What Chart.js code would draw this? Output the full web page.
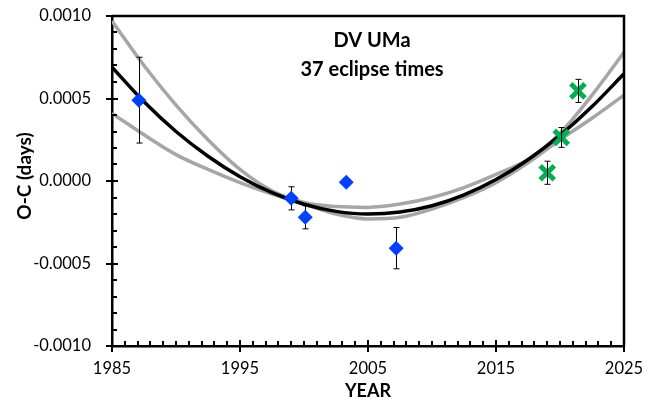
<!DOCTYPE html>
<html>
<head>
<meta charset="utf-8">
<script src="https://cdn.jsdelivr.net/npm/chart.js@4/dist/chart.umd.min.js"></script>
<style>
  html, body { margin: 0; padding: 0; background: #fff; }
  #wrap { width: 667px; height: 400px; }
</style>
</head>
<body>
<div id="wrap"><canvas id="oc" width="667" height="400"></canvas></div>
<script>
// Quadratic ephemeris fit and its envelope, sampled every 2.5 years
const curveYears = [1985, 1987.5, 1990, 1992.5, 1995, 1997.5, 2000, 2002.5, 2005, 2007.5, 2010, 2012.5, 2015, 2017.5, 2020, 2022.5, 2025];
const fitOC   = [0.00069, 0.00048, 0.00030, 0.00015, 0.000026, -0.000071, -0.000141, -0.000184, -0.0002, -0.000188, -0.00015, -0.000084, 0.000009, 0.000129, 0.000276, 0.000451, 0.00065];
const upperOC = [0.00097, 0.00070, 0.00046, 0.00025, 0.00007, -0.00006, -0.00013, -0.000155, -0.00016, -0.00014, -0.0001, -0.00004, 0.00004, 0.00013, 0.00029, 0.00052, 0.00078];
const lowerOC = [0.00041, 0.00028, 0.00016, 0.00007, -0.00001, -0.00008, -0.00014, -0.0002, -0.00023, -0.00022, -0.00017, -0.0001, -0.00001, 0.00011, 0.00025, 0.00038, 0.00052];

// Archival eclipse timings (O-C in days) with uncertainties
const archiveYears = [1987.1, 1999.0, 2000.1, 2003.3, 2007.2];
const archiveOC    = [0.00049, -0.000105, -0.00022, -0.000008, -0.000407];
const archiveErr   = [0.00026, 0.00007, 0.00007, 0, 0.000125];

// Recent eclipse timings
const recentYears = [2019.0, 2020.1, 2021.4];
const recentOC    = [0.00005, 0.000264, 0.000546];
const recentErr   = [0.00007, 0.00006, 0.00007];

// Axis ticks
const xMajorTicks = [1985, 1995, 2005, 2015, 2025];
const yMajorTicks = [-0.0010, -0.0005, 0.0000, 0.0005, 0.0010];
const xMinorStep = 1;
const yMinorStep = 0.0001;

const titleLines = ['DV UMa', '37 eclipse times'];
const xTitle = 'YEAR';
const yTitle = 'O-C (days)';

const FONT = 'Lato, "Open Sans", sans-serif';
const BLUE = '#0040ff';
const GREEN = '#00b050';
const GREY = '#a6a6a6';

const toPoints = (xs, ys) => xs.map((x, i) => ({ x, y: ys[i] }));

function drawErrorBars(chart, xs, ys, errs) {
  const ctx = chart.ctx, sx = chart.scales.x, sy = chart.scales.y;
  ctx.save();
  ctx.strokeStyle = '#000';
  ctx.lineWidth = 1;
  xs.forEach((x, i) => {
    if (!errs[i]) return;
    const px = Math.round(sx.getPixelForValue(x)) + 0.5;
    const top = sy.getPixelForValue(ys[i] + errs[i]);
    const bot = sy.getPixelForValue(ys[i] - errs[i]);
    ctx.beginPath();
    ctx.moveTo(px, top); ctx.lineTo(px, bot);
    ctx.moveTo(px - 3, top); ctx.lineTo(px + 3, top);
    ctx.moveTo(px - 3, bot); ctx.lineTo(px + 3, bot);
    ctx.stroke();
  });
  ctx.restore();
}

const ARCHIVE_IDX = 3;
const RECENT_IDX = 4;

const errorBarPlugin = {
  id: 'errorBars',
  beforeDatasetDraw(chart, args) {
    if (args.index === ARCHIVE_IDX) drawErrorBars(chart, archiveYears, archiveOC, archiveErr);
  },
  afterDatasetDraw(chart, args) {
    if (args.index === RECENT_IDX) drawErrorBars(chart, recentYears, recentOC, recentErr);
  }
};

const framePlugin = {
  id: 'frame',
  afterDatasetsDraw(chart) {
    const ctx = chart.ctx, a = chart.chartArea;
    const sx = chart.scales.x, sy = chart.scales.y;
    ctx.save();
    ctx.strokeStyle = '#000';
    ctx.lineWidth = 2.5;
    ctx.beginPath();
    ctx.moveTo(a.left, a.top); ctx.lineTo(a.right, a.top); ctx.lineTo(a.right, a.bottom);
    ctx.stroke();

    ctx.lineWidth = 2;
    ctx.beginPath();
    // minor ticks point into the plot, major ticks cross the axis
    for (let v = 1985; v <= 2025 + 1e-9; v += xMinorStep) {
      const px = Math.round(sx.getPixelForValue(v));
      const major = xMajorTicks.some(t => Math.abs(t - v) < 1e-6);
      ctx.moveTo(px, a.bottom - (major ? 6 : 5));
      ctx.lineTo(px, a.bottom + (major ? 6 : 0));
    }
    for (let k = -10; k <= 10; k++) {
      const v = k * yMinorStep;
      const py = Math.round(sy.getPixelForValue(v));
      const major = k % 5 === 0;
      ctx.moveTo(a.left - (major ? 6 : 0), py);
      ctx.lineTo(a.left + (major ? 6 : 5), py);
    }
    ctx.stroke();
    ctx.restore();
  },
  afterDraw(chart) {
    const ctx = chart.ctx, a = chart.chartArea;
    const cx = (a.left + a.right) / 2;
    ctx.save();
    ctx.fillStyle = '#000';
    ctx.textAlign = 'center';
    ctx.textBaseline = 'alphabetic';
    ctx.font = 'bold 20px ' + FONT;
    ctx.fillText(titleLines[0], cx + 4, a.top + 31);
    ctx.fillText(titleLines[1], cx + 4, a.top + 60);

    ctx.font = 'bold 18px ' + FONT;
    ctx.fillText(xTitle, cx, 397);

    ctx.translate(31, (a.top + a.bottom) / 2 - 5);
    ctx.rotate(-Math.PI / 2);
    ctx.font = 'bold 19px ' + FONT;
    ctx.fillText(yTitle, 0, 0);
    ctx.restore();
  }
};

// lower "order" values are painted last, i.e. on top
const lineDs = (data, color, order) => ({
  type: 'line',
  data,
  order,
  showLine: true,
  borderColor: color,
  borderWidth: 3.5,
  pointRadius: 0,
  pointHoverRadius: 0,
  cubicInterpolationMode: 'monotone',
  fill: false
});

// Keep the plot frame fixed; tick labels do not push the chart area inward
const noLabelPadding = s => {
  s.paddingTop = 0; s.paddingBottom = 0; s.paddingLeft = 0; s.paddingRight = 0;
};

new Chart(document.getElementById('oc'), {
  type: 'scatter',
  data: {
    datasets: [
      lineDs(toPoints(curveYears, upperOC), GREY, 4),
      lineDs(toPoints(curveYears, lowerOC), GREY, 3),
      lineDs(toPoints(curveYears, fitOC), '#000', 2),
      {
        data: toPoints(archiveYears, archiveOC),
        order: 1,
        pointStyle: 'rectRot',
        pointRadius: 7.5,
        pointBackgroundColor: BLUE,
        pointBorderWidth: 0,
        showLine: false
      },
      {
        data: toPoints(recentYears, recentOC),
        order: 0,
        pointStyle: 'crossRot',
        pointRadius: 10,
        pointBorderColor: GREEN,
        pointBorderWidth: 5,
        showLine: false
      }
    ]
  },
  options: {
    responsive: false,
    animation: false,
    devicePixelRatio: 1,
    layout: { padding: { top: 16, right: 43, left: 0, bottom: 0 } },
    plugins: { legend: { display: false }, tooltip: { enabled: false }, title: { display: false } },
    scales: {
      x: {
        type: 'linear',
        min: 1985,
        max: 2025,
        afterBuildTicks: s => { s.ticks = xMajorTicks.map(v => ({ value: v })); },
        afterFit: s => { s.height = 54; noLabelPadding(s); },
        grid: { display: false, drawTicks: false },
        border: { display: true, color: '#000', width: 2.5 },
        ticks: {
          color: '#000',
          font: { family: FONT, size: 16.5 },
          padding: 13,
          maxRotation: 0,
          autoSkip: false,
          callback: v => String(v)
        }
      },
      y: {
        min: -0.001,
        max: 0.001,
        afterBuildTicks: s => { s.ticks = yMajorTicks.map(v => ({ value: v })); },
        afterFit: s => { s.width = 112; noLabelPadding(s); },
        grid: { display: false, drawTicks: false },
        border: { display: true, color: '#000', width: 2.5 },
        ticks: {
          color: '#000',
          font: { family: FONT, size: 16.5 },
          padding: 21,
          autoSkip: false,
          callback: v => v.toFixed(4)
        }
      }
    }
  },
  plugins: [errorBarPlugin, framePlugin]
});
</script>
</body>
</html>
